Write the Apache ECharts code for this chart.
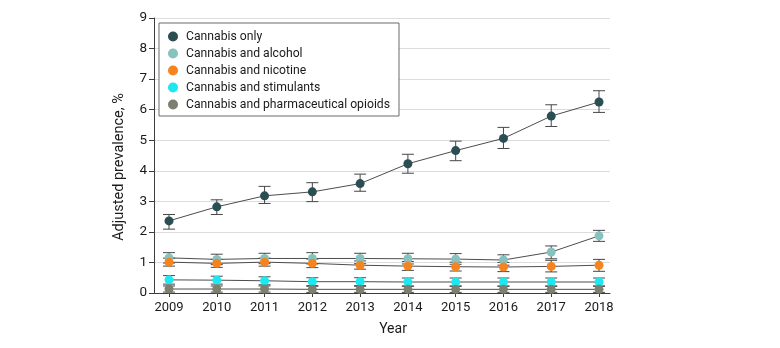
<!DOCTYPE html>
<html><head><meta charset="utf-8">
<script src="https://cdn.jsdelivr.net/npm/echarts@6/dist/echarts.min.js"></script>
<style>html,body{margin:0;padding:0;background:#fff}#c{width:780px;height:348px}</style>
</head><body><div id="c"></div>
<script>
var years = [2009, 2010, 2011, 2012, 2013, 2014, 2015, 2016, 2017, 2018];
var yTicks = [0, 1, 2, 3, 4, 5, 6, 7, 8, 9];
var seriesNames = ["Cannabis only", "Cannabis and alcohol", "Cannabis and nicotine", "Cannabis and stimulants", "Cannabis and pharmaceutical opioids"];
var colors = ["#2a4e51", "#86c2c0", "#f5841f", "#1be8f0", "#7e7f6f"];
var xTitle = "Year";
var yTitle = "Adjusted prevalence, %";

var cannabisOnly      = [2.36, 2.82, 3.18, 3.31, 3.58, 4.23, 4.66, 5.06, 5.79, 6.25];
var cannabisOnlyLow   = [2.09, 2.57, 2.93, 2.99, 3.33, 3.92, 4.33, 4.73, 5.45, 5.91];
var cannabisOnlyHigh  = [2.57, 3.05, 3.49, 3.61, 3.89, 4.54, 4.97, 5.42, 6.16, 6.62];

var alcohol      = [1.15, 1.10, 1.13, 1.13, 1.13, 1.12, 1.11, 1.08, 1.34, 1.87];
var alcoholLow   = [0.98, 0.93, 0.96, 0.95, 0.96, 0.95, 0.94, 0.91, 1.12, 1.69];
var alcoholHigh  = [1.32, 1.27, 1.30, 1.32, 1.30, 1.30, 1.29, 1.25, 1.54, 2.05];

var nicotine      = [1.01, 0.97, 1.01, 0.97, 0.91, 0.88, 0.86, 0.85, 0.87, 0.91];
var nicotineLow   = [0.88, 0.84, 0.88, 0.83, 0.78, 0.74, 0.72, 0.70, 0.69, 0.71];
var nicotineHigh  = [1.14, 1.10, 1.14, 1.11, 1.05, 1.03, 1.01, 1.00, 1.07, 1.10];

var stimulants      = [0.43, 0.42, 0.40, 0.37, 0.37, 0.36, 0.36, 0.36, 0.36, 0.36];
var stimulantsLow   = [0.29, 0.29, 0.27, 0.24, 0.24, 0.23, 0.23, 0.23, 0.23, 0.23];
var stimulantsHigh  = [0.57, 0.55, 0.53, 0.50, 0.50, 0.49, 0.49, 0.49, 0.49, 0.49];

var opioids      = [0.13, 0.13, 0.13, 0.12, 0.12, 0.12, 0.12, 0.12, 0.12, 0.12];
var opioidsLow   = [0.03, 0.03, 0.03, 0.02, 0.02, 0.02, 0.02, 0.02, 0.02, 0.02];
var opioidsHigh  = [0.23, 0.23, 0.23, 0.22, 0.22, 0.22, 0.22, 0.22, 0.22, 0.22];

var all = [
  [cannabisOnly, cannabisOnlyLow, cannabisOnlyHigh],
  [alcohol, alcoholLow, alcoholHigh],
  [nicotine, nicotineLow, nicotineHigh],
  [stimulants, stimulantsLow, stimulantsHigh],
  [opioids, opioidsLow, opioidsHigh]
];

var FONT = "Roboto";
var TXT = "#1a1a1a";
var series = [];
all.forEach(function (s, i) {
  series.push({
    type: "custom",
    name: seriesNames[i] + " CI",
    z: 2,
    silent: true,
    data: years.map(function (y, k) { return [y, s[1][k], s[2][k]]; }),
    encode: { x: 0, y: [1, 2] },
    renderItem: function (params, api) {
      var x = api.value(0);
      var lo = api.coord([x, api.value(1)]);
      var hi = api.coord([x, api.value(2)]);
      var w = 6;
      var st = { stroke: "#474747", lineWidth: 1 };
      return {
        type: "group",
        children: [
          { type: "line", shape: { x1: lo[0], y1: lo[1], x2: hi[0], y2: hi[1] }, style: st },
          { type: "line", shape: { x1: lo[0] - w, y1: lo[1], x2: lo[0] + w, y2: lo[1] }, style: st },
          { type: "line", shape: { x1: hi[0] - w, y1: hi[1], x2: hi[0] + w, y2: hi[1] }, style: st }
        ]
      };
    }
  });
});
all.forEach(function (s, i) {
  series.push({
    type: "line",
    name: seriesNames[i],
    z: 3,
    data: years.map(function (y, k) { return [y, s[0][k]]; }),
    symbol: "circle",
    symbolSize: 9,
    showSymbol: true,
    lineStyle: { color: "#4d4d4d", width: 1 },
    itemStyle: { color: colors[i], borderWidth: 0 },
    color: colors[i],
    emphasis: { disabled: true },
    animation: false
  });
});

var chart = echarts.init(document.getElementById("c"), null, { renderer: "canvas" });
chart.setOption({
  animation: false,
  backgroundColor: "#fff",
  grid: { left: 154, right: 170, top: 18, bottom: 55, containLabel: false },
  legend: {
    orient: "vertical",
    left: 159, top: 23,
    padding: [7, 9, 5, 9],
    itemWidth: 12, itemHeight: 10, itemGap: 4,
    icon: "circle",
    borderColor: "#6b6b6b", borderWidth: 1,
    backgroundColor: "#fff",
    selectedMode: false,
    data: seriesNames.map(function (n, i) { return { name: n, itemStyle: { color: colors[i] } }; }),
    textStyle: { fontFamily: FONT, fontSize: 12.2, color: TXT, lineHeight: 13, padding: [0, 0, 0, 2] }
  },
  graphic: [
    { type: "text", x: 119, y: 167, rotation: Math.PI / 2,
      style: { text: yTitle, fontFamily: FONT, fontSize: 14.5, fill: TXT, align: "center", verticalAlign: "middle" } },
    { type: "text", x: 393, y: 329,
      style: { text: xTitle, fontFamily: FONT, fontSize: 14, fill: TXT, align: "center", verticalAlign: "middle" } }
  ],
  xAxis: {
    type: "value",
    min: 2008.686, max: 2018.23,
    axisLine: { show: true, lineStyle: { color: "#3c3c3c", width: 1 } },
    axisTick: { show: true, length: 4, customValues: years, lineStyle: { color: "#3c3c3c" } },
    axisLabel: { customValues: years, fontFamily: FONT, fontSize: 13, color: TXT, margin: 8, formatter: function (v) { return String(v); } },
    splitLine: { show: false }
  },
  yAxis: {
    type: "value",
    min: 0, max: 9, interval: 1,
    axisLine: { show: true, lineStyle: { color: "#3c3c3c", width: 1 } },
    axisTick: { show: true, length: 5, lineStyle: { color: "#3c3c3c" } },
    axisLabel: { fontFamily: FONT, fontSize: 13.5, color: TXT, margin: 7, formatter: function (v) { return yTicks.indexOf(v) >= 0 ? String(v) : ""; } },
    splitLine: { show: true, lineStyle: { color: "#dcdcdc", width: 1 } }
  },
  series: series
});
</script>
</body></html>
